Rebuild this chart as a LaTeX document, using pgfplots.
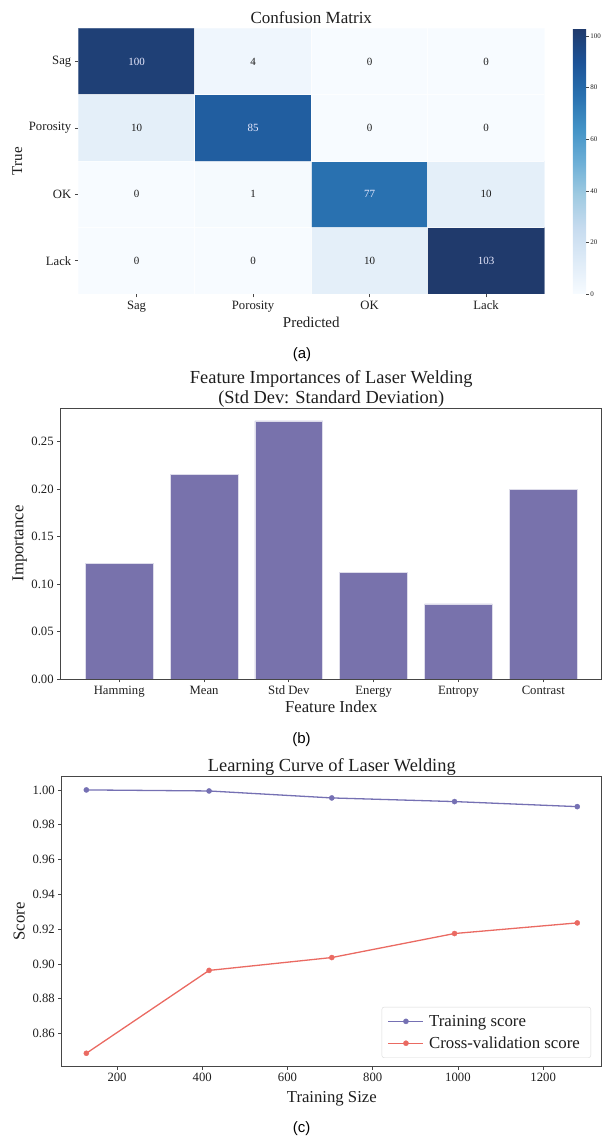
\documentclass[border=0pt]{standalone}
\usepackage{fontspec}
\setmainfont{Liberation Serif}
\newfontfamily\capfont{Liberation Sans}
\usepackage{pgfplots}
\pgfplotsset{compat=1.18}
\pgfplotsset{/pgf/number format/assume math mode=true, /pgf/number format/1000 sep={}}
\definecolor{barc}{RGB}{120,114,172}
\definecolor{trainc}{RGB}{117,112,179}
\definecolor{cvc}{RGB}{234,106,98}
\definecolor{framec}{RGB}{70,70,70}
\definecolor{txtc}{RGB}{30,30,30}
\newcommand\ftitleA{\fontsize{17bp}{20bp}\selectfont}
\newcommand\ftitle{\fontsize{18.4bp}{20bp}\selectfont}
\newcommand\flabA{\fontsize{15bp}{18bp}\selectfont}
\newcommand\flab{\fontsize{16.7bp}{19bp}\selectfont}
\newcommand\ftick{\fontsize{12.7bp}{14bp}\selectfont}
\newcommand\fann{\fontsize{11bp}{13bp}\selectfont}
\newcommand\fcb{\fontsize{7bp}{8bp}\selectfont}
\pgfplotsset{
  colormap={cmblues}{rgb255=(247,251,255) rgb255=(222,235,247) rgb255=(198,219,239) rgb255=(158,202,225) rgb255=(107,174,214) rgb255=(66,146,198) rgb255=(40,112,175) rgb255=(28,82,150) rgb255=(32,58,108)},
  myframe/.style={
    scale only axis, anchor=south west,
    tick pos=left, tick align=outside,
    major tick length=3.5bp,
    tick style={framec, line width=0.8bp},
    ticklabel style={font=\ftick, text=txtc},
    label style={font=\flab, text=txtc},
    title style={font=\ftitle, text=txtc},
  }
}
\begin{document}
\begin{tikzpicture}
\path[use as bounding box] (0bp,0bp) rectangle (603bp,1138bp);

% ---------------- (a) confusion matrix ----------------
\begin{axis}[myframe,
  at={(78.3bp,844bp)}, width=466bp, height=265.7bp,
  xmin=-0.5, xmax=3.5, ymin=-0.5, ymax=3.5, enlargelimits=false,
  axis line style={draw=none},
  axis on top,
  xtick={0,1,2,3}, xticklabels={Sag,Porosity,OK,Lack},
  ytick={0,1,2,3}, yticklabels={Lack,OK,Porosity,Sag},
  minor xtick={0.5,1.5,2.5}, minor ytick={0.5,1.5,2.5},
  minor tick length=0pt,
  xminorgrids, yminorgrids,
  minor grid style={white, line width=0.8bp, opacity=0.8},
  title={Confusion Matrix},
  title style={at={(0.5,1.016)}, anchor=center, font=\ftitleA},
  xlabel={Predicted},
  xlabel style={at={(axis description cs:0.5,-0.1054)}, anchor=center, font=\flabA},
  ylabel={True},
  ylabel style={at={(axis description cs:-0.1307,0.5)}, anchor=center, font=\flabA},
  colormap name=cmblues,
  point meta min=0, point meta max=103,
  colorbar,
  colorbar style={
    at={(parent axis.north east)}, anchor=north west, xshift=20bp,
    width=13.4bp,
    ytick={0,20,40,60,80,100},
    yticklabel style={font=\fcb, text=txtc, inner xsep=1.5bp},
    axis line style={draw=none},
    major tick length=2.5bp,
    tick style={framec, line width=0.6bp},
    tick align=outside,
    ytick pos=right, yticklabel pos=right,
  },
]
\addplot[matrix plot*, mesh/cols=4, point meta=explicit] table[meta=c] {
x y c
0 0 0
1 0 0
2 0 10
3 0 103
0 1 0
1 1 1
2 1 77
3 1 10
0 2 10
1 2 85
2 2 0
3 2 0
0 3 100
1 3 4
2 3 0
3 3 0
};
\addplot[only marks, mark=*, mark size=0.01pt, mark options={draw=none, fill=none},
  nodes near coords, nodes near coords align=center, point meta=explicit symbolic,
  every node near coord/.append style={font=\fann, text=txtc, anchor=center}]
  table[meta=t] {
x y t
1 3 4
2 3 0
3 3 0
0 2 10
2 2 0
3 2 0
0 1 0
1 1 1
3 1 10
0 0 0
1 0 0
2 0 10
};
\addplot[only marks, mark=*, mark size=0.01pt, mark options={draw=none, fill=none},
  nodes near coords, nodes near coords align=center, point meta=explicit symbolic,
  every node near coord/.append style={font=\fann, text=white!92!blue, anchor=center}]
  table[meta=t] {
x y t
0 3 100
1 2 85
2 1 77
3 0 103
};
\end{axis}
\node[font=\capfont\fontsize{15bp}{18bp}\selectfont] at (302bp,783bp) {(a)};

% ---------------- (b) feature importances ----------------
\begin{axis}[myframe,
  at={(60.7bp,459bp)}, width=541.1bp, height=271bp,
  xmin=-0.69, xmax=5.69, ymin=0, ymax=0.2853,
  axis line style={framec, line width=0.9bp},
  xtick={0,1,2,3,4,5}, xticklabels={Hamming,Mean,Std Dev,Energy,Entropy,Contrast},
  ytick={0,0.05,0.1,0.15,0.2,0.25},
  scaled y ticks=false,
  yticklabel style={/pgf/number format/.cd, fixed, fixed zerofill, precision=2},
  title={Feature Importances of Laser Welding\\(Std Dev: Standard Deviation)},
  title style={at={(0.5,1.048)}, anchor=center, align=center},
  xlabel={Feature Index},
  xlabel style={at={(axis description cs:0.5,-0.1033)}, anchor=center},
  ylabel={Importance},
  ylabel style={at={(axis description cs:-0.076,0.5)}, anchor=center},
]
\addplot[ybar, bar width=0.8, fill=barc, draw=white!75!barc, line width=0.7bp]
  coordinates {(0,0.1217) (1,0.2150) (2,0.2717) (3,0.1126) (4,0.0790) (5,0.2000)};
\end{axis}
\node[font=\capfont\fontsize{15bp}{18bp}\selectfont] at (301.5bp,398bp) {(b)};

% ---------------- (c) learning curve ----------------
\begin{axis}[myframe,
  at={(61.8bp,71.5bp)}, width=540bp, height=289.8bp,
  xmin=70.4, xmax=1337.6, ymin=0.8411, ymax=1.0076,
  axis line style={framec, line width=0.9bp},
  xtick={200,400,600,800,1000,1200},
  ytick={0.86,0.88,0.90,0.92,0.94,0.96,0.98,1.00},
  scaled y ticks=false,
  yticklabel style={/pgf/number format/.cd, fixed, fixed zerofill, precision=2},
  title={Learning Curve of Laser Welding},
  title style={at={(0.5,1.012)}, anchor=center},
  xlabel={Training Size},
  xlabel style={at={(axis description cs:0.5,-0.112)}, anchor=center},
  ylabel={Score},
  ylabel style={at={(axis description cs:-0.0787,0.5)}, anchor=center},
  legend cell align=left,
  legend style={at={(1,0)}, anchor=south east, xshift=-10.8bp, yshift=8.5bp,
    font=\fontsize{16.8bp}{19bp}\selectfont, draw=black!15, rounded corners=2.5bp,
    row sep=5bp, inner xsep=6bp, inner ysep=6bp, text=txtc,
    nodes={inner xsep=5bp}},
  legend image code/.code={\draw[mark repeat=2, mark phase=2] plot coordinates {(0bp,0bp) (17.5bp,0bp) (35bp,0bp)};},
]
\addplot[trainc, line width=1.3bp, mark=*, mark size=2.6bp, mark options={line width=0.3bp}]
  coordinates {(128,1.0000) (416,0.9994) (704,0.9954) (992,0.9933) (1280,0.9904)};
\addlegendentry{Training score}
\addplot[cvc, line width=1.3bp, mark=*, mark size=2.6bp, mark options={line width=0.3bp}]
  coordinates {(128,0.8487) (416,0.8963) (704,0.9037) (992,0.9175) (1280,0.9236)};
\addlegendentry{Cross-validation score}
\end{axis}
\node[font=\capfont\fontsize{15bp}{18bp}\selectfont] at (301.5bp,9bp) {(c)};
\end{tikzpicture}
\end{document}
